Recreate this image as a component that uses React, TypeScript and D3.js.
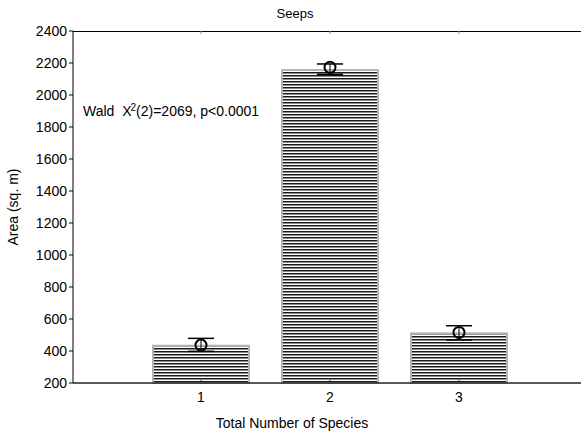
import React from "react";
import * as d3 from "d3";

const categories = [1, 2, 3];
const barValues = [433, 2156, 510];
const means = [437, 2173, 516];
const upper = [479, 2194, 558];
const lower = [398, 2129, 469];
const yTicks = [200, 400, 600, 800, 1000, 1200, 1400, 1600, 1800, 2000, 2200, 2400];

const W = 582;
const H = 435;
const left = 73;
const right = 581;
const top = 31;
const bottom = 383;

export default function App() {
  const x = d3.scaleLinear().domain([1, 3]).range([201, 459]);
  const y = d3.scaleLinear().domain([200, 2400]).range([bottom, top]);
  const barW = 96;
  const font = "'Liberation Sans', Arial, sans-serif";
  return (
    <svg width={W} height={H} style={{ position: "absolute", left: 0, top: 0 }} fontFamily={font}>
      <defs>
        <pattern id="stripes" width="4" height="3" patternUnits="userSpaceOnUse">
          <rect x="0" y="0" width="4" height="3" fill="#ffffff" />
          <rect x="0" y="0" width="4" height="1" fill="#1a1a1a" />
          <rect x="0" y="1" width="4" height="1" fill="#8a8a8a" />
        </pattern>
      </defs>
      <rect x={0} y={0} width={W} height={H} fill="#fff" />
      <text x={295} y={18} fontSize={13} textAnchor="middle" fill="#000">Seeps</text>
      {categories.map((c, i) => (
        <g key={c}>
          <rect
            x={x(c) - barW / 2}
            y={y(barValues[i])}
            width={barW}
            height={y(200) - y(barValues[i])}
            fill="url(#stripes)"
            stroke="#b4b4b4"
            strokeWidth={2}
          />
        </g>
      ))}
      {/* axes */}
      <line x1={left} x2={left} y1={top} y2={bottom} stroke="#000" strokeWidth={1} />
      <line x1={left} x2={right} y1={top + 0.5} y2={top + 0.5} stroke="#000" strokeWidth={1} />
      <line x1={left} x2={right} y1={bottom} y2={bottom} stroke="#222" strokeWidth={1.5} />
      {yTicks.map((t) => (
        <g key={t}>
          <line x1={left - 4} x2={left} y1={y(t)} y2={y(t)} stroke="#000" />
          <text x={67} y={y(t) + 5} fontSize={14} textAnchor="end" fill="#000">{t}</text>
        </g>
      ))}
      {categories.map((c) => (
        <g key={"xt" + c}>
          <line x1={x(c)} x2={x(c)} y1={bottom} y2={bottom - 3} stroke="#333" />
          <line x1={x(c)} x2={x(c)} y1={top} y2={top + 3} stroke="#888" />
          <text x={x(c)} y={402} fontSize={14} textAnchor="middle" fill="#000">{c}</text>
        </g>
      ))}
      {/* error bars and means */}
      {categories.map((c, i) => (
        <g key={"e" + c} stroke="#000">
          <line x1={x(c)} x2={x(c)} y1={y(upper[i])} y2={y(lower[i])} strokeWidth={1} />
          <line x1={x(c) - 13} x2={x(c) + 13} y1={y(upper[i])} y2={y(upper[i])} strokeWidth={1.5} />
          <line x1={x(c) - 13} x2={x(c) + 13} y1={y(lower[i])} y2={y(lower[i])} strokeWidth={1.5} />
          <circle cx={x(c)} cy={y(means[i])} r={5.5} fill="none" strokeWidth={2} />
        </g>
      ))}
      <text x={83} y={116} fontSize={14} fill="#000" style={{ whiteSpace: "pre" }}>
        {"Wald  X"}<tspan fontSize={10} dy={-5} dx={-1}>2</tspan><tspan dy={5}>(2)=2069, p&lt;0.0001</tspan>
      </text>
      <text x={292} y={428} fontSize={14} textAnchor="middle" fill="#000">Total Number of Species</text>
      <text transform={`translate(18,${207}) rotate(-90)`} fontSize={14} textAnchor="middle" fill="#000">Area (sq. m)</text>
    </svg>
  );
}
